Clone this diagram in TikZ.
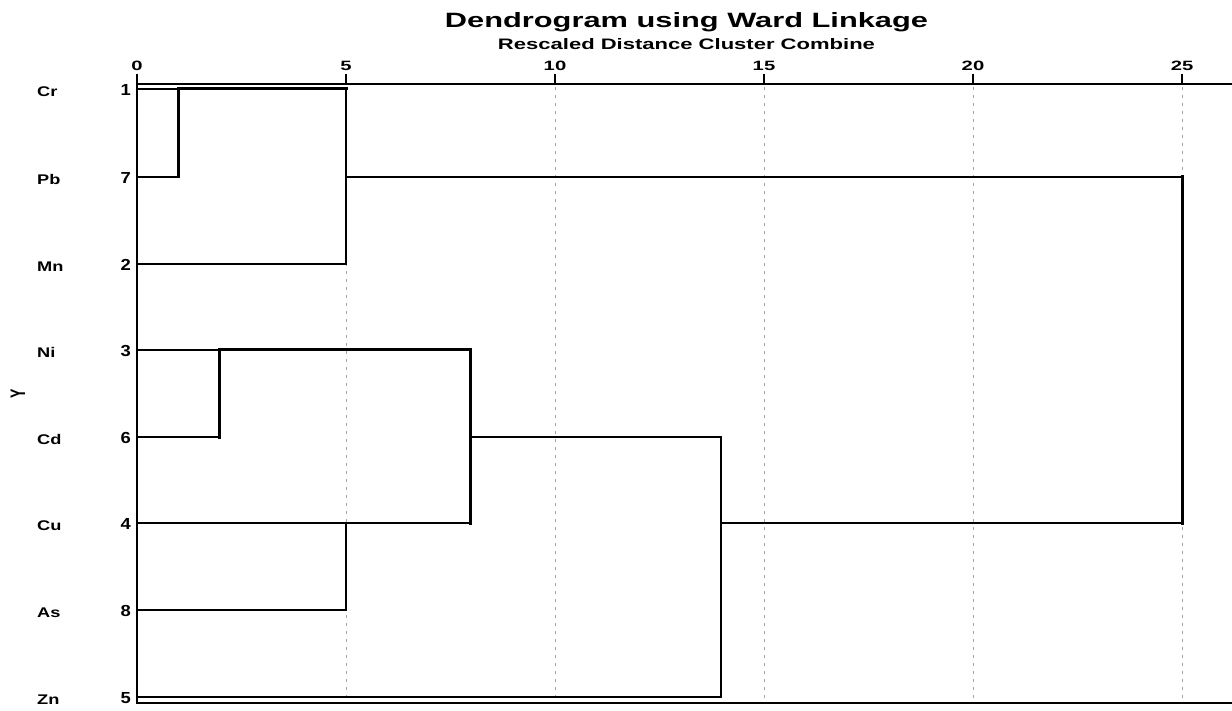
\documentclass[tikz,border=0pt]{standalone}
\usepackage{fontspec}
\setmainfont{Liberation Sans}
\usepackage{graphicx}
\newcommand\wide[2]{\scalebox{#1}[1]{#2}}
\begin{document}
\begin{tikzpicture}[x=1pt,y=-1pt,
  grid/.style={draw=black!35,line width=0.9pt,dash pattern=on 3pt off 5pt},
  axisline/.style={line width=2.4pt},
  link/.style={line width=2.1pt,line cap=rect},
  boldlink/.style={line width=3pt,line cap=rect},
  ticklab/.style={inner sep=0pt,anchor=base,font=\fontsize{13.5}{13.5}\selectfont\bfseries},
  leaflab/.style={inner sep=0pt,anchor=west,font=\fontsize{14}{14}\selectfont\bfseries},
  numlab/.style={inner sep=0pt,anchor=east,font=\fontsize{16}{16}\selectfont\bfseries}]
\path[use as bounding box] (0,0) rectangle (1232,711);
% title
\node[inner sep=0pt,anchor=base] (title) at (686.5,28) {\resizebox{483pt}{15pt}{\bfseries Dendrogram using Ward Linkage}};
\node[inner sep=0pt,anchor=base] (subtitle) at (686.5,50) {\resizebox{377pt}{11pt}{\bfseries Rescaled Distance Cluster Combine}};
% grid lines
\foreach \v in {5,10,15,20,25}
  \draw[grid] ({137+41.8*\v},87) -- ({137+41.8*\v},701);
% axes
\draw[axisline] (137,84) -- (1232,84);
\draw[axisline] (137,703) -- (1232,703);
\draw[line width=2.8pt] (137,74) -- (137,704);
\foreach \v in {0,5,10,15,20,25}{
  \draw[line width=2.2pt] ({137+41.8*\v},74) -- ({137+41.8*\v},84);
  \node[ticklab] (t\v) at ({137+41.8*\v},71) {\wide{1.5}{\v}};
}
% leaf labels
\foreach \nm/\k/\yy in {Cr/1/89,Pb/7/177,Mn/2/264,Ni/3/350,Cd/6/437,Cu/4/523,As/8/610,Zn/5/697}{
  \node[leaflab] (n\nm) at (37,\yy+2.5) {\wide{1.3}{\nm}};
  \node[numlab] (k\nm) at (131,\yy+1) {\wide{1.15}{\k}};
  \coordinate (\nm) at (137,\yy);
}
\node[inner sep=0pt,font=\fontsize{14}{14}\selectfont\bfseries] (ylab) at (18,394) {\scalebox{1.5}[1]{\rotatebox{90}{Y}}};
% merge points
\coordinate (a1) at (178,89);  \coordinate (a2) at (178,177);
\coordinate (b1) at (346,89);  \coordinate (b3) at (346,177); \coordinate (b2) at (346,264);
\coordinate (c1) at (219,350); \coordinate (c2) at (219,437);
\coordinate (d1) at (470,350); \coordinate (d3) at (470,437); \coordinate (d2) at (470,523);
\coordinate (e1) at (346,523); \coordinate (e2) at (346,610);
\coordinate (f1) at (721,437); \coordinate (f3) at (721,523); \coordinate (f2) at (721,697);
\coordinate (z1) at (1182,177); \coordinate (z2) at (1182,523);
% dendrogram
\draw[link] (Cr) -- (a1);
\draw[link] (Pb) -- (a2);
\draw[boldlink] (a2) -- (a1) -- (b1);
\draw[link] (b1) -- (b2) -- (Mn);
\draw[link] (b3) -- (z1);
\draw[boldlink] (z1) -- (z2);
\draw[link] (Ni) -- (c1);
\draw[link] (Cd) -- (c2);
\draw[boldlink] (c2) -- (c1) -- (d1) -- (d2);
\draw[link] (Cu) -- (e1) -- (e2) -- (As);
\draw[link] (e1) -- (d2);
\draw[link] (d3) -- (f1) -- (f2) -- (Zn);
\draw[link] (f3) -- (z2);
\end{tikzpicture}
\end{document}
